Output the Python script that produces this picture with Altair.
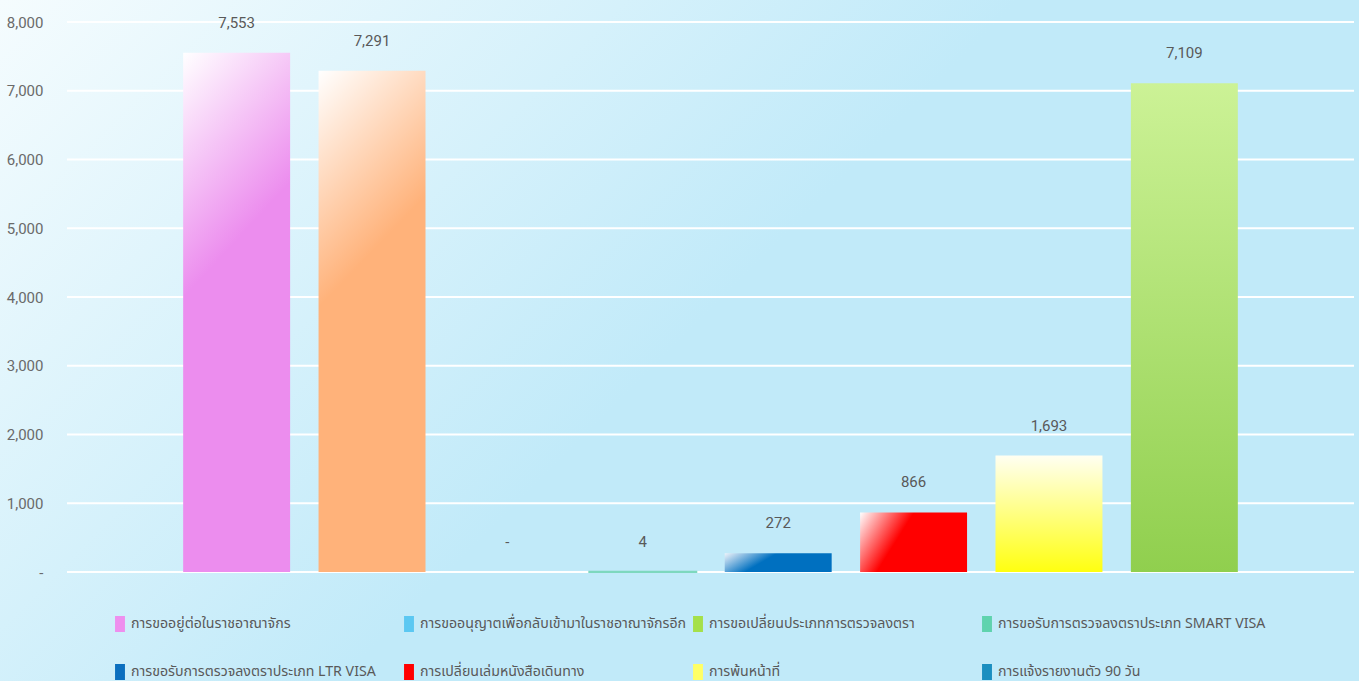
import altair as alt
import pandas as pd

# ---- data ----
categories = [
    "การขออยู่ต่อในราชอาณาจักร",
    "การขออนุญาตเพื่อกลับเข้ามาในราชอาณาจักรอีก",
    "การขอเปลี่ยนประเภทการตรวจลงตรา",
    "การขอรับการตรวจลงตราประเภท SMART VISA",
    "การขอรับการตรวจลงตราประเภท LTR VISA",
    "การเปลี่ยนเล่มหนังสือเดินทาง",
    "การพ้นหน้าที่",
    "การแจ้งรายงานตัว 90 วัน",
]
values = [7553, 7291, 0, 4, 272, 866, 1693, 7109]
legend_colors = ["#EE8FEE", "#5BC8F2", "#A5E04A", "#5FD3AE",
                 "#0B6FBF", "#FF0000", "#FFFF66", "#1B8FC0"]
y_ticks = [0, 1000, 2000, 3000, 4000, 5000, 6000, 7000, 8000]

# per-bar gradient fills (styling)
def grad(stops, x2, y2, x1=0, y1=0):
    return {"gradient": "linear", "x1": x1, "y1": y1, "x2": x2, "y2": y2,
            "stops": [{"offset": o, "color": c} for o, c in stops]}

bar_fills = [
    grad([(0, "#FFFFFF"), (1, "#EC8DEE")], 0.1, 0.45),
    grad([(0, "#FFFFFF"), (1, "#FFB27A")], 0.1, 0.45),
    "#A5E04A",
    "#7ED8BE",
    grad([(0, "#EEF3FA"), (0.45, "#0070C0"), (1, "#0070C0")], 1, 0.3),
    grad([(0, "#FFFFFF"), (0.45, "#FF0000"), (1, "#FF0000")], 1, 0.35),
    grad([(0, "#FFFFF2"), (1, "#FFFF10")], 0, 1),
    grad([(0, "#CCF296"), (1, "#90CF4E")], 0, 1),
]

W, H = 1287, 550
FONT_NUM = "Liberation Sans Narrow, Roboto, sans-serif"
FONT_TH = "Tahoma, Noto Sans Thai, Leelawadee UI, DejaVu Sans, sans-serif"

df = pd.DataFrame({"cat": categories, "value": values, "idx": list(range(8))})
df["label"] = [("-" if v == 0 else f"{v:,}") for v in values]
ticks_df = pd.DataFrame({"t": y_ticks})

xscale = alt.Scale(domain=categories, paddingInner=0.21, paddingOuter=0.858)
yscale = alt.Scale(domain=[0, 8000], nice=False)

background = alt.Chart(ticks_df).mark_rect(
    clip=False,
    color=grad([(0, "#F5FCFE"), (1, "#C1EAF9")], 0.6, 0.3),
).encode(
    x=alt.value(-67), x2=alt.value(W + 5),
    y=alt.value(-22), y2=alt.value(H + 109),
)

grid = alt.Chart(ticks_df).mark_rule(color="white", strokeWidth=2.2).encode(
    y=alt.Y("t:Q", scale=yscale, axis=alt.Axis(
        values=y_ticks, grid=False, domain=False, ticks=False, zindex=1,
        labelExpr="datum.value == 0 ? '-' : format(datum.value, ',')",
        labelFont=FONT_NUM, labelFontSize=15, labelColor="#6A6A6A",
        labelPadding=24, title=None)),
)

bar_layers = []
for i, c in enumerate(categories):
    bar_layers.append(
        alt.Chart(df).transform_filter(alt.datum.idx == i).mark_bar(
            color=bar_fills[i],
            stroke=bar_fills[i] if i == 3 else None,
            strokeWidth=2 if i == 3 else 0,
        ).encode(
            x=alt.X("cat:N", scale=xscale, axis=None, sort=categories),
            y=alt.Y("value:Q", scale=yscale),
        )
    )

texts = alt.Chart(df).mark_text(
    dy=-30, baseline="middle", fontSize=15, font=FONT_NUM, color="#595959"
).encode(
    x=alt.X("cat:N", scale=xscale, axis=None, sort=categories),
    y=alt.Y("value:Q", scale=yscale),
    text="label:N",
)

legend_layer = alt.Chart(df).mark_square(size=0, opacity=0).encode(
    x=alt.X("cat:N", scale=xscale, axis=None, sort=categories),
    y=alt.Y("value:Q", scale=yscale),
    color=alt.Color("cat:N", scale=alt.Scale(domain=categories, range=legend_colors),
                    sort=categories,
                    legend=alt.Legend(
                        orient="none", legendX=45, legendY=594, direction="horizontal",
                        columns=4, gridAlign="all", columnPadding=2, rowPadding=32,
                        title=None, padding=0,
                        symbolType="M-0.62,-1H0.62V1H-0.62Z", symbolSize=256,
                        symbolOpacity=1, symbolStrokeWidth=0, labelOffset=3,
                        labelFont=FONT_TH, labelFontSize=14.2, labelColor="#595959",
                        labelLimit=400,
                    )),
)

chart = alt.layer(background, grid, *bar_layers, texts, legend_layer).properties(
    width=W, height=H,
    padding={"left": 67, "top": 22, "right": 5, "bottom": 109},
    autosize=alt.AutoSizeParams(type="none"),
    background="#C1EAF9",
).configure_view(stroke=None)

chart.save("out.html", embed_options={"renderer": "svg", "actions": False})
